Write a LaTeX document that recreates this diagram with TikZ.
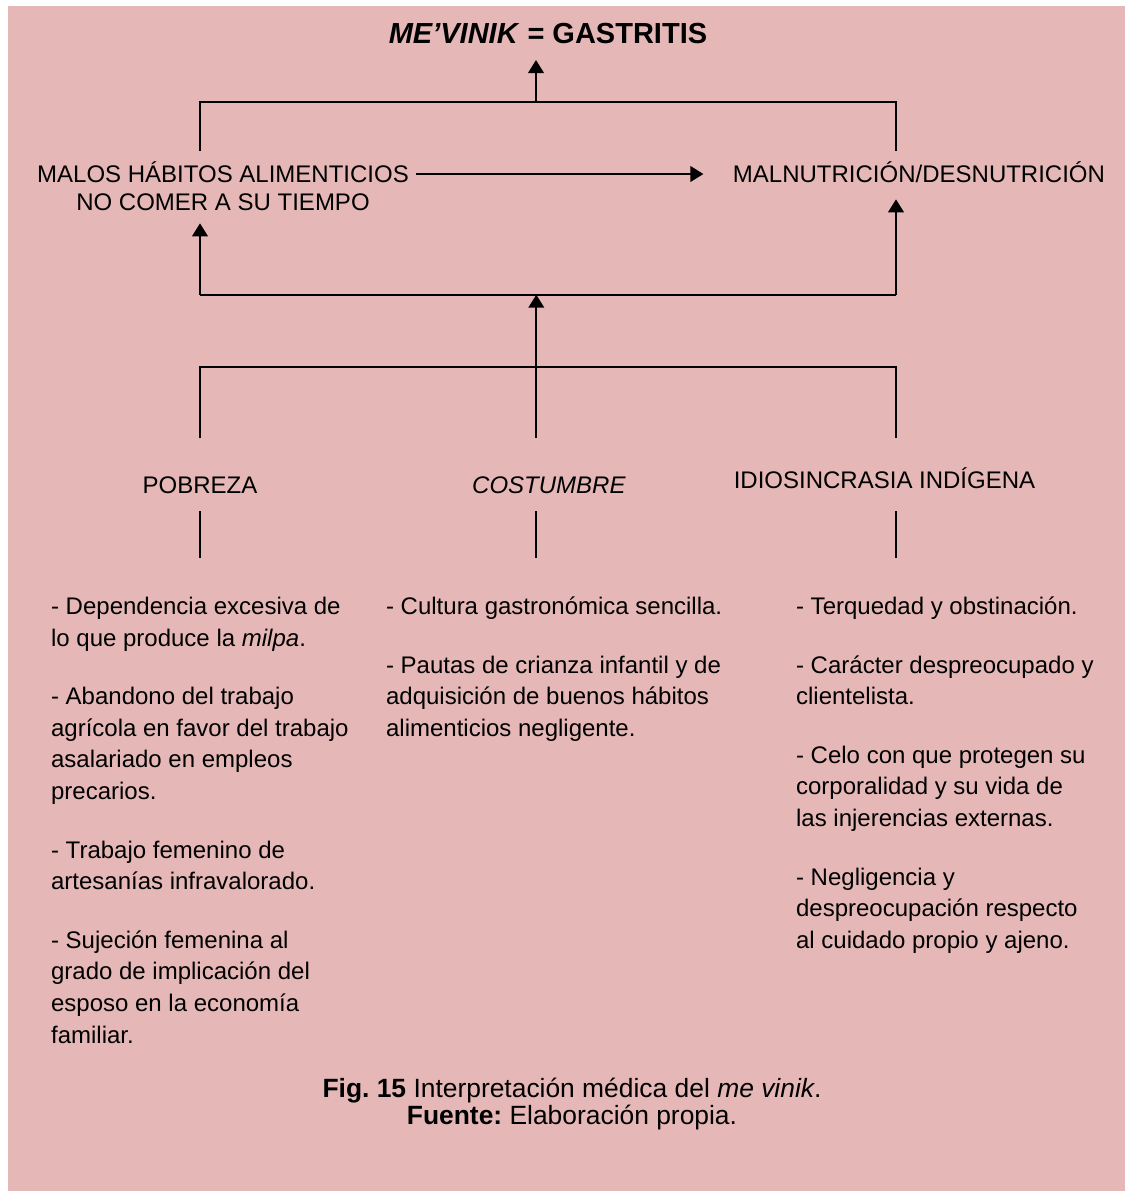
\documentclass[tikz,border=0pt]{standalone}
\usepackage{fontspec}
\setmainfont{Liberation Sans}
\usetikzlibrary{arrows.meta}
\definecolor{pinkbg}{HTML}{E5B8B7}
\frenchspacing
\begin{document}
\begin{tikzpicture}[x=0.5pt,y=-0.5pt,
  conn/.style={line width=1pt},
  arr/.style={line width=1pt,-{Triangle[length=6.5pt,width=7.8pt]}},
  lbl/.style={inner sep=0pt,font=\fontsize{12}{13.65}\selectfont},
  listtxt/.style={inner sep=0pt,align=left,anchor=base west,font=\fontsize{12}{15.8}\selectfont},
  cat/.style={inner sep=0pt,anchor=base,font=\fontsize{12}{14}\selectfont}]
\useasboundingbox (0,0) rectangle (1125,1191);
\fill[white] (0,0) rectangle (1125,1191);
\fill[pinkbg] (7.5,6) rectangle (1125,1191);

% title
\node[inner sep=0pt,anchor=base,font=\fontsize{14.5}{16}\selectfont\bfseries] (title) at (548,43) {\textit{ME’VINIK} = GASTRITIS};

% top junction
\coordinate (tt) at (536,60);
\coordinate (tj) at (536,101.7);
\coordinate (tl) at (200,101.7);
\coordinate (tr) at (896,101.7);
\coordinate (tlb) at (200,150.7);
\coordinate (trb) at (896,150.7);
\draw[conn] (tlb) -- (tl) -- (tr) -- (trb);
\draw[arr] (tj) -- (tt);

% middle row (anchor base = last line)
\node[lbl,align=center,anchor=base] (malos) at (223,210) {MALOS HÁBITOS ALIMENTICIOS\\NO COMER A SU TIEMPO};
\node[lbl,anchor=base] (maln) at (919,182.7) {MALNUTRICIÓN/DESNUTRICIÓN};
\coordinate (ha) at (416,174);
\coordinate (hb) at (703.4,174);
\draw[arr] (ha) -- (hb);

% lower junction
\coordinate (la) at (200,223.3);
\coordinate (ra) at (896,199.3);
\coordinate (bl) at (200,294.7);
\coordinate (br) at (896,294.7);
\coordinate (bm) at (536.3,294.7);
\draw[conn] (bl) -- (br);
\draw[arr] (bl) -- (la);
\draw[arr] (br) -- (ra);

% causes bracket
\coordinate (ll) at (200,366.7);
\coordinate (mj) at (536.3,366.7);
\coordinate (rr) at (896,366.7);
\coordinate (llb) at (200,438.3);
\coordinate (mjb) at (536.3,438.3);
\coordinate (rrb) at (896,438.3);
\draw[arr] (mj) -- (bm);
\draw[conn] (llb) -- (ll) -- (rr) -- (rrb);
\draw[conn] (mj) -- (mjb);

% categories
\node[cat] (pob) at (200,493.3) {POBREZA};
\node[cat] (cos) at (549,493.3) {\textit{COSTUMBRE}};
\node[cat] (idi) at (884.5,488.3) {IDIOSINCRASIA INDÍGENA};

\coordinate (p1) at (200,511); \coordinate (p2) at (200,558.3);
\coordinate (c1) at (536.3,511); \coordinate (c2) at (536.3,558.3);
\coordinate (i1) at (896,511); \coordinate (i2) at (896,558.3);
\draw[conn] (p1) -- (p2);
\draw[conn] (c1) -- (c2);
\draw[conn] (i1) -- (i2);

% lists (anchor base = last line baseline)
\node[listtxt] (lpob) at (50.7,1043) {- Dependencia excesiva de\\lo que produce la \textit{milpa}.\\[13.5pt]
- Abandono del trabajo\\agrícola en favor del trabajo\\asalariado en empleos\\precarios.\\[13.5pt]
- Trabajo femenino de\\artesanías infravalorado.\\[13.5pt]
- Sujeción femenina al\\grado de implicación del\\esposo en la economía\\familiar.};

\node[listtxt] (lcos) at (385.7,736.2) {- Cultura gastronómica sencilla.\\[13.5pt]
- Pautas de crianza infantil y de\\adquisición de buenos hábitos\\alimenticios negligente.};

\node[listtxt] (lidi) at (795.7,948.2) {- Terquedad y obstinación.\\[13.5pt]
- Carácter despreocupado y\\clientelista.\\[13.5pt]
- Celo con que protegen su\\corporalidad y su vida de\\las injerencias externas.\\[13.5pt]
- Negligencia y\\despreocupación respecto\\al cuidado propio y ajeno.};

% caption
\node[inner sep=0pt,align=center,anchor=base,font=\fontsize{13.2}{13.5}\selectfont] (capt) at (572,1124) {{\bfseries Fig. 15} Interpretación médica del \textit{me vinik}.\\{\bfseries Fuente:} Elaboración propia.};
\end{tikzpicture}
\end{document}
